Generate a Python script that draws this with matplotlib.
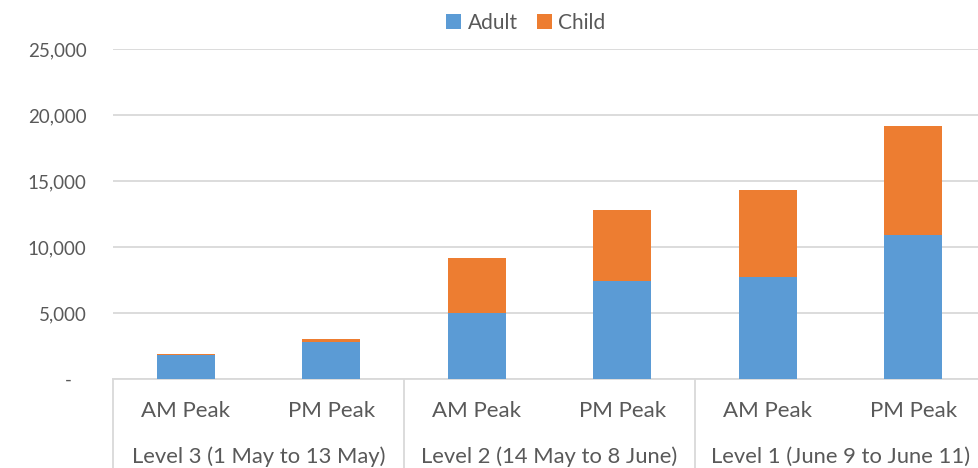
import matplotlib
matplotlib.use('Agg')
import matplotlib.pyplot as plt
from matplotlib.ticker import FuncFormatter

plt.rcParams['font.family'] = ['Lato', 'DejaVu Sans']

# data
periods = ['AM Peak', 'PM Peak', 'AM Peak', 'PM Peak', 'AM Peak', 'PM Peak']
levels = ['Level 3 (1 May to 13 May)', 'Level 2 (14 May to 8 June)', 'Level 1 (June 9 to June 11)']
adult = [1800, 2830, 5000, 7420, 7730, 10890]
child = [90, 200, 4170, 5380, 6570, 8250]

blue = '#5B9BD5'
orange = '#ED7D31'
grey_text = '#595959'
grid_col = '#D9D9D9'

fig = plt.figure(figsize=(9.79, 4.68), dpi=100)
ax = fig.add_axes([0.1154, 0.190, 0.8917, 0.705])

x = list(range(len(periods)))
ax.bar(x, adult, width=0.4, color=blue, label='Adult', zorder=3)
ax.bar(x, child, width=0.4, bottom=adult, color=orange, label='Child', zorder=3)

ax.set_xlim(-0.5, 5.5)
ax.set_ylim(0, 25000)
ax.set_yticks(range(0, 25001, 5000))
ax.yaxis.set_major_formatter(FuncFormatter(lambda v, p: '-   ' if v == 0 else f'{int(v):,}'))
ax.grid(axis='y', color=grid_col, linewidth=1.3, zorder=0)

for s in ['top', 'right', 'left']:
    ax.spines[s].set_visible(False)
ax.spines['bottom'].set_color(grid_col)
ax.spines['bottom'].set_linewidth(1.3)

ax.set_xticks(x)
ax.set_xticklabels(periods)
ax.tick_params(axis='x', length=0, pad=16, labelsize=16, labelcolor=grey_text)
ax.tick_params(axis='y', length=0, pad=19, labelsize=13.5, labelcolor=grey_text)

# group separators and level labels below the axis
trans = ax.get_xaxis_transform()
for b in [-0.5, 1.5, 3.5, 5.5]:
    ax.plot([b, b], [0, -0.3], color=grid_col, linewidth=1.3, transform=trans, clip_on=False)
for i, name in enumerate(levels):
    ax.text(2 * i + 0.5, -0.235, name, transform=trans, ha='center', va='center',
            fontsize=15.8, color=grey_text)

fig.legend(loc='center', bbox_to_anchor=(0.537, 0.951), ncol=2, frameon=False,
           fontsize=15, handlelength=0.75, handleheight=0.75, handletextpad=0.3,
           columnspacing=0.9, labelcolor=grey_text)

fig.savefig('out.png', dpi=100)
